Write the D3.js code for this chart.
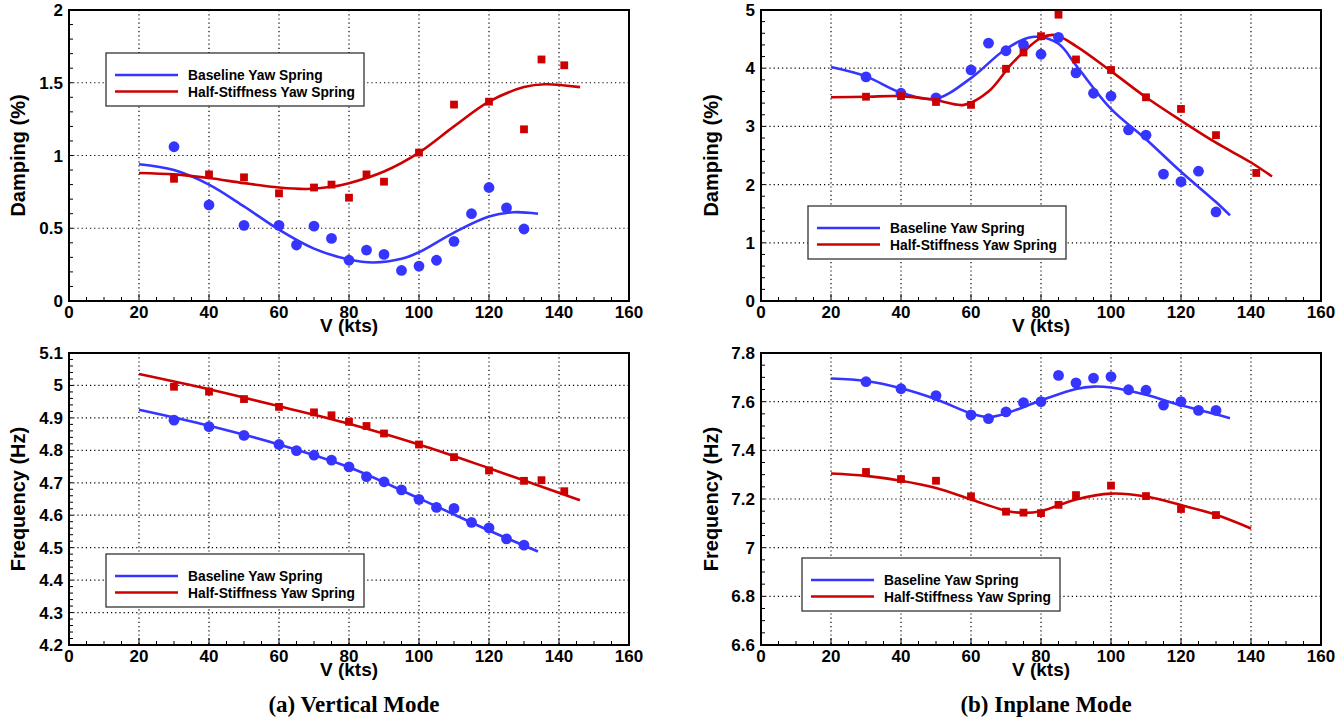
<!DOCTYPE html>
<html><head><meta charset="utf-8">
<script src="https://cdn.jsdelivr.net/npm/d3@7"></script>
<style>body{margin:0;background:#fff}svg{display:block}</style>
</head><body>
<svg id="c" width="1344" height="721"></svg>
<script>
// ---------- DATA ----------
const speedTicks = [0,20,40,60,80,100,120,140,160];
const seriesNames = ["Baseline Yaw Spring","Half-Stiffness Yaw Spring"];

// (a) Vertical mode - damping
const vdBaseX = [30,40,50,60,65,70,75,80,85,90,95,100,105,110,115,120,125,130];
const vdBaseY = [1.06,0.66,0.52,0.52,0.385,0.515,0.43,0.28,0.35,0.32,0.21,0.24,0.28,0.41,0.60,0.78,0.64,0.495];
const vdHalfX = [30,40,50,60,70,75,80,85,90,100,110,120,130,135,141.5];
const vdHalfY = [0.84,0.87,0.85,0.74,0.78,0.80,0.71,0.87,0.82,1.02,1.35,1.37,1.18,1.66,1.62];
const vdBaseFitX = [20,30,40,50,60,70,80,87,95,100,110,120,127,134];
const vdBaseFitY = [0.94,0.90,0.80,0.65,0.49,0.36,0.285,0.265,0.29,0.335,0.47,0.58,0.61,0.60];
const vdHalfFitX = [20,30,40,50,60,68,75,80,90,100,110,120,130,136,146];
const vdHalfFitY = [0.88,0.87,0.845,0.81,0.78,0.77,0.785,0.81,0.89,1.02,1.20,1.37,1.47,1.49,1.47];

// (a) Vertical mode - frequency
const vfBaseX = [30,40,50,60,65,70,75,80,85,90,95,100,105,110,115,120,125,130];
const vfBaseY = [4.893,4.873,4.846,4.818,4.799,4.785,4.770,4.749,4.719,4.703,4.678,4.649,4.624,4.621,4.578,4.561,4.527,4.508];
const vfHalfX = [30,40,50,60,70,75,80,85,90,100,110,120,130,135,141.5];
const vfHalfY = [4.996,4.981,4.958,4.934,4.917,4.908,4.888,4.875,4.852,4.818,4.779,4.738,4.706,4.708,4.674];
const vfBaseFitX = [20,40,60,80,100,120,134];
const vfBaseFitY = [4.925,4.876,4.818,4.748,4.652,4.553,4.488];
const vfHalfFitX = [20,40,60,80,100,120,146];
const vfHalfFitY = [5.035,4.988,4.936,4.882,4.818,4.745,4.646];

// (b) Inplane mode - damping
const idBaseX = [30,40,50,60,65,70,75,80,85,90,95,100,105,110,115,120,125,130];
const idBaseY = [3.85,3.57,3.49,3.97,4.43,4.30,4.40,4.24,4.53,3.92,3.57,3.52,2.94,2.85,2.18,2.05,2.23,1.53];
const idHalfX = [30,40,50,60,70,75,80,85,90,100,110,120,130,141.5];
const idHalfY = [3.51,3.52,3.42,3.37,3.99,4.27,4.55,4.92,4.15,3.97,3.50,3.30,2.85,2.20];
const idBaseFitX = [20,30,40,50,60,70,78,85,90,100,110,120,130,134];
const idBaseFitY = [4.02,3.86,3.58,3.48,3.83,4.33,4.54,4.42,4.05,3.30,2.78,2.22,1.70,1.47];
const idHalfFitX = [20,30,40,50,58,65,72,80,84,90,100,110,120,130,140,146];
const idHalfFitY = [3.50,3.51,3.52,3.45,3.37,3.60,4.10,4.52,4.57,4.38,3.95,3.50,3.10,2.72,2.38,2.14];

// (b) Inplane mode - frequency
const ifBaseX = [30,40,50,60,65,70,75,80,85,90,95,100,105,110,115,120,125,130];
const ifBaseY = [7.682,7.653,7.625,7.546,7.530,7.558,7.596,7.600,7.708,7.677,7.697,7.703,7.649,7.647,7.586,7.600,7.564,7.564];
const ifHalfX = [30,40,50,60,70,75,80,85,90,100,110,120,130];
const ifHalfY = [7.311,7.282,7.275,7.211,7.148,7.144,7.142,7.176,7.216,7.255,7.212,7.159,7.134];
const ifBaseFitX = [20,30,40,50,60,65,70,80,90,95,100,110,120,130,134];
const ifBaseFitY = [7.695,7.685,7.655,7.61,7.552,7.537,7.552,7.605,7.652,7.662,7.658,7.628,7.585,7.548,7.532];
const ifHalfFitX = [20,30,40,50,60,70,75,80,90,100,110,120,130,140];
const ifHalfFitY = [7.305,7.295,7.275,7.245,7.198,7.152,7.143,7.150,7.198,7.222,7.210,7.175,7.135,7.079];

const dampLTicks = [0,0.5,1,1.5,2];
const dampRTicks = [0,1,2,3,4,5];
const freqLTicks = [4.2,4.3,4.4,4.5,4.6,4.7,4.8,4.9,5,5.1];
const freqRTicks = [6.6,6.8,7,7.2,7.4,7.6,7.8];

// ---------- DRAW ----------
const svg = d3.select("#c");
const BLUE = "#3535ff", RED = "#cc0000";
const FONT = "'Liberation Sans', Arial, sans-serif";
const zip = (xs, ys) => xs.map((x,i)=>({x, y: ys[i]}));

function panel(o){
  const x = d3.scaleLinear().domain([0,160]).range([o.left, o.left+560]);
  const y = d3.scaleLinear().domain(o.ydom).range([o.bottom, o.top]);
  const g = svg.append("g");
  // grid
  g.selectAll(".gx").data(speedTicks.filter(t=>t>0&&t<160)).join("line")
    .attr("x1",d=>x(d)).attr("x2",d=>x(d)).attr("y1",o.top).attr("y2",o.bottom)
    .attr("stroke","#000").attr("stroke-width",1.2).attr("stroke-dasharray","1.2,3");
  g.selectAll(".gy").data(o.yticks.filter(t=>t>o.ydom[0]&&t<o.ydom[1])).join("line")
    .attr("x1",o.left).attr("x2",o.left+560).attr("y1",d=>y(d)).attr("y2",d=>y(d))
    .attr("stroke","#000").attr("stroke-width",1.2).attr("stroke-dasharray","1.2,3");
  // minor ticks x
  const xm = d3.range(0,161,5);
  g.selectAll(".mx").data(xm).join("line")
    .attr("x1",d=>x(d)).attr("x2",d=>x(d)).attr("y1",o.bottom).attr("y2",d=> d%20===0? o.bottom-7 : o.bottom-4)
    .attr("stroke","#000").attr("stroke-width",1);
  // minor ticks y
  const n = Math.round((o.ydom[1]-o.ydom[0])/o.ymin);
  const ym = d3.range(0,n+1).map(i=>o.ydom[0]+i*o.ymin);
  g.selectAll(".my").data(ym).join("line")
    .attr("x1",o.left).attr("x2",o.left+4).attr("y1",d=>y(d)).attr("y2",d=>y(d))
    .attr("stroke","#000").attr("stroke-width",1);
  // tick labels
  g.selectAll(".tx").data(speedTicks).join("text")
    .attr("x",d=>x(d)).attr("y",o.bottom+17).attr("text-anchor","middle")
    .attr("font-family",FONT).attr("font-weight","bold").attr("font-size",17).text(d=>d);
  g.selectAll(".ty").data(o.yticks).join("text")
    .attr("x",o.left-6).attr("y",d=>y(d)+6).attr("text-anchor","end")
    .attr("font-family",FONT).attr("font-weight","bold").attr("font-size",17).text(d=>d);
  // frame
  g.append("rect").attr("x",o.left).attr("y",o.top).attr("width",560).attr("height",o.bottom-o.top)
    .attr("fill","none").attr("stroke","#000").attr("stroke-width",2);
  // labels
  g.append("text").attr("x",o.left+280).attr("y",o.bottom+31).attr("text-anchor","middle")
    .attr("font-family",FONT).attr("font-weight","bold").attr("font-size",19).text("V (kts)");
  g.append("text").attr("transform",`translate(${o.ylabX},${(o.top+o.bottom)/2}) rotate(-90)`)
    .attr("text-anchor","middle").attr("font-family",FONT).attr("font-weight","bold").attr("font-size",20)
    .text(o.ylabel);
  // fits
  const line = d3.line().x(d=>x(d.x)).y(d=>y(d.y)).curve(d3.curveCatmullRom.alpha(0.5));
  g.append("path").attr("d",line(o.baseFit)).attr("fill","none").attr("stroke",BLUE).attr("stroke-width",2.6);
  g.append("path").attr("d",line(o.halfFit)).attr("fill","none").attr("stroke",RED).attr("stroke-width",2.6);
  // markers
  g.selectAll(".bc").data(o.base).join("circle").attr("cx",d=>x(d.x)).attr("cy",d=>y(d.y)).attr("r",5.4).attr("fill",BLUE);
  g.selectAll(".rs").data(o.half).join("rect").attr("x",d=>x(d.x)-3.9).attr("y",d=>y(d.y)-3.9)
    .attr("width",7.8).attr("height",7.8).attr("fill",RED);
  // legend
  const L = o.leg;
  g.append("rect").attr("x",L.x).attr("y",L.y).attr("width",L.w).attr("height",53)
    .attr("fill","#fff").attr("stroke","#333").attr("stroke-width",1.3);
  [BLUE,RED].forEach((c,i)=>{
    const yy = L.y+22+i*16.5;
    g.append("line").attr("x1",L.x+9).attr("x2",L.x+72).attr("y1",yy).attr("y2",yy).attr("stroke",c).attr("stroke-width",2.6);
    g.append("text").attr("x",L.x+82).attr("y",yy+5).attr("font-family",FONT).attr("font-weight","bold")
      .attr("font-size",13.8).text(seriesNames[i]);
  });
}

panel({left:69, top:10, bottom:301, ydom:[0,2], yticks:dampLTicks, ymin:0.1, ylabel:"Damping (%)", ylabX:25,
  base:zip(vdBaseX,vdBaseY), half:zip(vdHalfX,vdHalfY), baseFit:zip(vdBaseFitX,vdBaseFitY), halfFit:zip(vdHalfFitX,vdHalfFitY),
  leg:{x:106,y:53,w:258}});
panel({left:69, top:353, bottom:645, ydom:[4.2,5.1], yticks:freqLTicks, ymin:0.02, ylabel:"Frequency (Hz)", ylabX:25,
  base:zip(vfBaseX,vfBaseY), half:zip(vfHalfX,vfHalfY), baseFit:zip(vfBaseFitX,vfBaseFitY), halfFit:zip(vfHalfFitX,vfHalfFitY),
  leg:{x:106,y:554,w:258}});
panel({left:761, top:10, bottom:301, ydom:[0,5], yticks:dampRTicks, ymin:0.2, ylabel:"Damping (%)", ylabX:718,
  base:zip(idBaseX,idBaseY), half:zip(idHalfX,idHalfY), baseFit:zip(idBaseFitX,idBaseFitY), halfFit:zip(idHalfFitX,idHalfFitY),
  leg:{x:808,y:206,w:258}});
panel({left:761, top:353, bottom:645, ydom:[6.6,7.8], yticks:freqRTicks, ymin:0.05, ylabel:"Frequency (Hz)", ylabX:718,
  base:zip(ifBaseX,ifBaseY), half:zip(ifHalfX,ifHalfY), baseFit:zip(ifBaseFitX,ifBaseFitY), halfFit:zip(ifHalfFitX,ifHalfFitY),
  leg:{x:802,y:558,w:258}});

// captions
[["(a) Vertical Mode",354],["(b) Inplane Mode",1046]].forEach(([t,cx])=>{
  svg.append("text").attr("x",cx).attr("y",712).attr("text-anchor","middle")
    .attr("font-family","'Liberation Serif','Times New Roman',serif").attr("font-weight","bold").attr("font-size",23).text(t);
});
</script>
</body></html>
